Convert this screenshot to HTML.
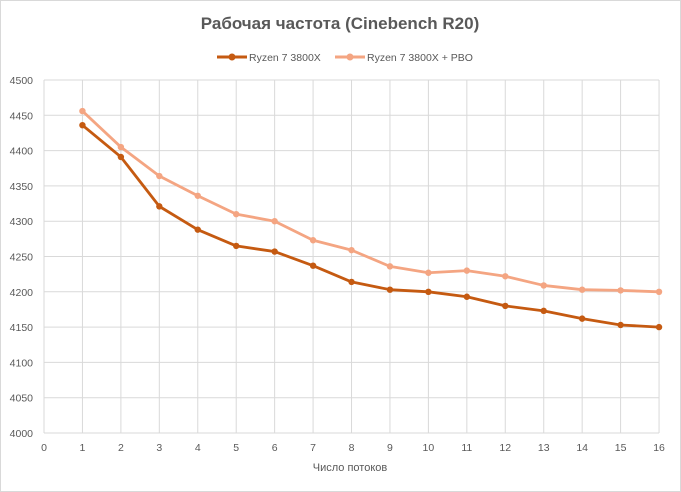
<!DOCTYPE html><html><head><meta charset="utf-8"><style>
body{margin:0;background:#fff}
svg{display:block;font-family:"Liberation Sans",sans-serif}
</style></head><body>
<svg id="s" width="681" height="492" xmlns="http://www.w3.org/2000/svg">
<rect x="0.5" y="0.5" width="680" height="491" fill="#fff" stroke="#d9d9d9"/>
<text x="340" y="29" text-anchor="middle" font-size="17" font-weight="bold" fill="#595959">Рабочая частота (Cinebench R20)</text>
<line x1="217" y1="57" x2="247" y2="57" stroke="#c55a11" stroke-width="3"/><circle cx="232" cy="57" r="3.5" fill="#c55a11"/>
<text x="249" y="61" font-size="10.5" fill="#595959">Ryzen 7 3800X</text>
<line x1="335" y1="57" x2="365" y2="57" stroke="#f4a582" stroke-width="3"/><circle cx="350" cy="57" r="3.5" fill="#f4a582"/>
<text x="367" y="61" font-size="10.5" fill="#595959">Ryzen 7 3800X + PBO</text>
<g id="g"></g>
<text x="350" y="471" text-anchor="middle" font-size="11" fill="#595959">Число потоков</text>
</svg>
<script>
var g=document.getElementById('g'),h='';
function X(i){return 44+i*38.44}function Y(v){return 433-(v-4000)*0.706}
for(var v=4000;v<=4500;v+=50){var y=Y(v);h+='<line x1="44" x2="659" y1="'+y+'" y2="'+y+'" stroke="#d9d9d9"/>';h+='<text x="33" y="'+(y+4)+'" text-anchor="end" font-size="10.5" fill="#595959">'+v+'</text>';}
for(var i=0;i<=16;i++){var x=X(i);h+='<line x1="'+x+'" x2="'+x+'" y1="80" y2="433" stroke="#d9d9d9"/>';h+='<text x="'+x+'" y="451" text-anchor="middle" font-size="10.5" fill="#595959">'+i+'</text>';}
var a=[4436,4391,4321,4288,4265,4257,4237,4214,4203,4200,4193,4180,4173,4162,4153,4150];
var b=[4456,4405,4364,4336,4310,4300,4273,4259,4236,4227,4230,4222,4209,4203,4202,4200];
function s(d,c){var p=d.map(function(v,i){return X(i+1)+','+Y(v)}).join(' ');var r='<polyline points="'+p+'" fill="none" stroke="'+c+'" stroke-width="2.8" stroke-linejoin="round"/>';d.forEach(function(v,i){r+='<circle cx="'+X(i+1)+'" cy="'+Y(v)+'" r="3.2" fill="'+c+'"/>'});return r}
h+=s(b,'#f4a582')+s(a,'#c55a11');
g.innerHTML=h;
</script>
</body></html>
